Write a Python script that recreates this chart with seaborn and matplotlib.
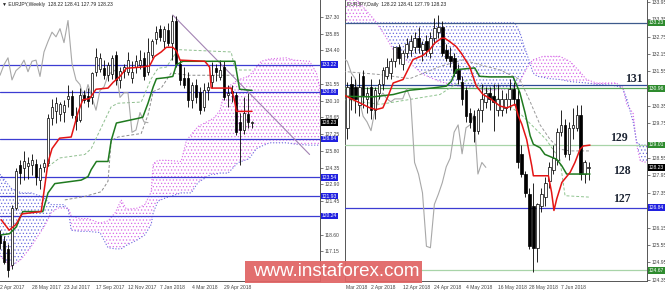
import numpy as np
import pandas as pd
import matplotlib
matplotlib.use("Agg")
import matplotlib.pyplot as plt
import matplotlib.transforms as mtransforms
from matplotlib.patches import Rectangle
import seaborn as sns

sns.set_theme(style="white")
plt.rcParams['font.family'] = ['Liberation Sans', 'DejaVu Sans']
plt.rcParams['hatch.linewidth'] = 0.5

# ---------------- LEFT: EURJPY Weekly ----------------
w_idx = list(range(0, 64))
w_open = [118.6, 118.1, 117.4, 116.0, 120.9, 124.6, 124.3, 124.5, 124.6, 124.7,
          123.3, 124.4, 124.8, 128.6, 129.2, 129.0, 129.15, 130.3, 130.5, 128.8,
          128.5, 130.6, 130.5, 130.4, 132.6, 132.8, 132.9, 132.3, 132.4, 134.0,
          131.9, 132.7, 132.6, 132.1, 133.0, 133.2, 133.8, 132.6, 134.0, 135.4,
          136.3, 135.2, 136.2, 135.1, 137.0, 133.3, 132.1, 132.1, 130.2, 131.5,
          130.9, 129.6, 131.0, 131.7, 132.9, 132.15, 133.0, 130.6, 130.95, 130.6,
          128.3, 127.6, 129.0, 128.22]
w_high = [119.0, 118.5, 117.8, 121.2, 124.3, 125.0, 125.8, 125.3, 125.5, 125.1,
          124.7, 125.1, 129.0, 130.3, 130.4, 130.0, 130.2, 131.5, 131.0, 129.6,
          131.2, 131.0, 131.2, 132.6, 134.6, 134.2, 133.6, 133.4, 134.0, 134.4,
          133.0, 133.3, 134.3, 133.5, 134.0, 134.5, 134.3, 135.5, 135.4, 136.5,
          136.6, 136.5, 136.8, 137.5, 137.4, 133.6, 133.0, 132.6, 131.7, 132.0,
          131.3, 131.6, 131.7, 133.4, 133.3, 133.6, 133.5, 131.5, 131.5, 130.9,
          129.1, 130.4, 130.8, 128.41]
w_low = [117.4, 116.1, 115.0, 115.7, 120.7, 123.0, 123.3, 123.4, 123.7, 122.9,
         122.5, 124.0, 124.5, 128.0, 128.2, 128.4, 128.3, 129.6, 128.6, 127.6,
         128.3, 129.9, 129.6, 129.8, 132.2, 132.6, 132.0, 131.8, 132.0, 131.5,
         131.2, 132.1, 132.3, 131.6, 132.5, 132.8, 131.9, 132.3, 133.8, 135.0,
         135.2, 134.6, 134.8, 133.6, 133.0, 131.5, 131.2, 129.6, 129.5, 129.9,
         129.0, 129.2, 130.2, 131.2, 131.8, 131.9, 130.2, 129.6, 130.0, 127.2,
         124.6, 127.3, 127.8, 127.79]
w_close = [117.9, 116.3, 115.6, 120.9, 124.1, 123.9, 124.9, 124.8, 125.0, 123.6,
           124.3, 124.8, 128.6, 129.6, 129.9, 129.8, 129.75, 130.5, 128.9, 128.4,
           130.6, 130.2, 130.1, 132.5, 133.9, 133.8, 132.3, 133.2, 133.8, 131.9,
           132.7, 133.0, 133.6, 132.6, 133.5, 133.6, 132.2, 134.3, 135.2, 136.0,
           135.6, 136.3, 135.1, 137.0, 133.3, 131.9, 131.5, 130.2, 131.5, 130.4,
           129.3, 131.0, 131.3, 132.3, 132.6, 132.75, 130.4, 130.8, 130.8, 127.4,
           127.6, 129.1, 128.3, 128.23]

w_tenkan_x = [0.3, 2.3, 4.0, 5.5, 10.3, 12.0, 13.0, 14.9, 17.8, 19.5, 20.7, 22.4, 24.0,
              27.0, 28.3, 30.0, 31.6, 35.3, 37.4, 38.6, 40.3, 41.6, 43.2, 44.1, 45.0,
              51.2, 52.4, 52.8, 57.8, 58.6, 59.1, 63.0]
w_tenkan_y = [119.9, 119.0, 119.5, 120.4, 120.6, 124.8, 126.0, 126.9, 127.0, 129.1, 130.2,
              130.3, 131.1, 131.2, 131.7, 132.2, 132.9, 133.0, 133.1, 133.9, 134.3, 134.7,
              134.7, 134.4, 133.6, 133.5, 133.0, 131.2, 131.2, 130.2, 129.2, 129.2]

w_kijun_x = [0.3, 2.4, 4.1, 4.9, 5.7, 10.7, 12.0, 13.7, 20.3, 22.0, 22.8, 24.1, 27.0,
             27.8, 29.1, 34.5, 35.7, 37.0, 38.3, 39.1, 41.6, 43.2, 44.1, 45.7, 58.7,
             59.9, 63.0]
w_kijun_y = [118.6, 118.7, 119.3, 120.0, 120.6, 120.6, 122.2, 123.0, 123.3, 123.6, 124.2,
             124.9, 124.9, 126.7, 128.2, 128.6, 128.7, 129.9, 131.3, 132.0, 132.1, 132.2,
             133.2, 133.5, 133.5, 131.1, 131.0]

w_cloud_x = [0.0, 2.8, 5.3, 7.8, 9.5, 11.2, 12.8, 14.5, 16.0, 17.1, 17.8, 20.0, 22.0, 25.0,
             27.0, 28.8, 30.3, 31.6, 34.5, 36.2, 37.8, 38.3, 39.5, 41.6, 45.3, 46.6, 47.8,
             49.5, 52.8, 53.7, 55.0, 56.2, 57.0, 59.5, 62.0, 62.4, 64.1, 65.3, 67.4, 71.6,
             73.6, 77.4, 79.1, 79.9, 80.5]
w_span_a = [116.8, 115.9, 116.5, 117.6, 118.5, 119.4, 120.5, 120.9, 120.9, 120.9, 120.2,
            120.0, 120.0, 119.6, 119.8, 120.5, 121.6, 120.8, 120.9, 121.2, 122.3, 124.7,
            125.0, 125.0, 124.9, 126.7, 127.2, 127.9, 128.5, 128.7, 129.3, 131.0, 131.3,
            131.9, 132.2, 132.3, 133.0, 133.5, 133.7, 133.8, 133.6, 133.5, 132.5, 131.3,
            127.5]
w_span_b = [123.8, 122.6, 122.2, 122.2, 122.0, 121.7, 121.2, 121.2, 121.2, 120.7, 119.0,
            118.9, 118.9, 118.8, 117.5, 117.4, 117.4, 117.7, 118.2, 118.6, 119.5, 120.5,
            121.5, 121.8, 122.2, 122.2, 122.2, 123.1, 123.8, 123.8, 123.9, 123.9, 123.9,
            124.8, 125.1, 125.2, 126.0, 126.2, 126.5, 126.5, 126.4, 126.3, 126.3, 126.3,
            126.3]

w_dash_a_x = [12.0, 14.9, 21.2, 22.8, 27.8, 29.5, 35.3, 37.8, 39.5, 41.6, 44.5, 57.8, 58.6, 59.9, 62.8]
w_dash_a_y = [124.45, 125.2, 125.5, 126.0, 129.6, 129.9, 130.0, 132.0, 132.9, 133.0, 134.5,
              134.3, 133.0, 132.75, 132.75]
w_dash_b_x = [16.2, 21.2, 25.3, 27.0, 27.8, 29.5, 35.3, 37.0, 38.3, 40.3, 42.8, 47.0, 58.6]
w_dash_b_y = [121.6, 121.9, 122.3, 123.2, 126.7, 127.0, 127.3, 128.9, 130.9, 131.2, 132.5,
              132.3, 132.3]

w_trend_x = [43.2, 77.4]
w_trend_y = [137.47, 125.5]

w_levels = [133.22, 130.88, 126.84, 123.54, 121.93, 120.24]
w_last = 128.23
w_ytick_vals = [137.30, 135.86, 134.43, 131.55, 130.11, 128.68, 127.24, 125.80, 124.36,
                122.93, 121.49, 118.61, 117.18, 115.74]
w_ytick_labels = ["137.30", "135.85", "134.40", "131.55", "130.10", "128.65", "127.25",
                  "125.80", "124.35", "122.90", "121.45", "118.60", "117.15", "115.75"]
w_xtick_pos = [0, 8, 16, 24, 32, 40, 48, 56]
w_xtick_labels = ["2 Apr 2017", "28 May 2017", "23 Jul 2017", "17 Sep 2017",
                  "12 Nov 2017", "7 Jan 2018", "4 Mar 2018", "29 Apr 2018"]

# ---------------- RIGHT: EURJPY Daily ----------------
d_idx = list(range(-6, 56))
d_open = [129.6, 131.1, 131.0, 130.4, 131.4, 130.6, 131.0, 130.2, 130.8, 131.1, 131.4,
          131.5, 131.9, 132.4, 131.8, 132.2, 132.3, 132.4, 132.7, 132.3, 132.6, 132.2,
          132.7, 132.9, 133.1, 132.3, 132.1, 132.0, 131.6, 131.2, 130.9, 130.1, 130.0,
          129.5, 130.2, 130.5, 130.8, 130.7, 130.2, 130.2, 130.3, 130.6, 130.95, 130.6,
          128.7, 128.0, 127.3, 126.9, 125.45, 126.9, 127.2, 127.75, 128.15, 128.5, 129.45,
          129.7, 128.7, 129.6, 129.6, 130.05, 128.0, 128.22]
d_high = [131.2, 131.4, 131.3, 131.5, 131.6, 131.0, 131.3, 131.0, 131.3, 131.7, 132.0,
          132.0, 132.4, 132.5, 132.3, 132.7, 132.8, 132.9, 133.1, 132.6, 132.8, 132.9,
          133.4, 133.5, 133.3, 132.5, 132.4, 132.2, 131.8, 131.4, 131.0, 130.3, 130.2,
          130.3, 131.1, 131.0, 131.0, 131.1, 131.1, 130.9, 130.8, 131.3, 131.2, 130.9,
          129.0, 128.1, 127.5, 127.7, 127.0, 127.5, 127.9, 128.4, 129.0, 129.6, 130.2,
          129.9, 129.8, 130.3, 130.4, 130.4, 128.5, 128.41]
d_low = [129.2, 130.2, 130.1, 130.0, 130.3, 130.1, 129.9, 129.9, 130.6, 130.9, 131.3,
         131.3, 131.7, 131.8, 131.6, 132.0, 132.1, 132.2, 132.2, 131.9, 132.1, 132.0,
         132.5, 132.7, 132.1, 131.9, 131.7, 131.4, 131.1, 130.4, 129.8, 129.6, 129.1,
         129.4, 129.8, 130.3, 130.2, 129.5, 130.0, 130.0, 130.1, 130.2, 130.4, 128.2,
         127.9, 127.2, 125.4, 124.6, 124.95, 126.7, 126.9, 127.5, 128.0, 128.3, 129.3,
         128.6, 128.5, 129.2, 129.5, 127.8, 127.7, 127.79]
d_close = [131.0, 130.6, 130.6, 131.0, 130.7, 130.8, 130.2, 130.9, 131.1, 131.6, 131.7,
           131.9, 132.4, 132.0, 132.2, 132.5, 132.6, 132.7, 132.4, 132.5, 132.3, 132.7,
           133.05, 133.1, 132.2, 132.0, 131.9, 131.5, 131.3, 130.6, 130.0, 129.8, 129.5,
           130.2, 130.6, 130.8, 130.6, 130.5, 130.6, 130.6, 130.6, 130.95, 130.6, 128.4,
           128.0, 127.35, 125.5, 125.45, 126.95, 127.3, 127.7, 128.25, 128.55, 129.45,
           129.7, 128.7, 129.6, 129.7, 130.05, 128.0, 128.4, 128.23]

d_tenkan_x = [-7.1, -0.3, 1.3, 3.0, 4.3, 5.6, 8.1, 10.6, 13.1, 14.8, 16.1, 17.8, 18.6,
              19.9, 21.5, 22.8, 24.9, 26.6, 28.3, 30.0, 32.6, 34.3, 36.4, 37.2, 38.1,
              39.3, 40.6, 41.0, 44.8, 45.6, 46.2, 46.9, 48.2, 50.3, 51.5, 52.8, 53.6, 55.3]
d_tenkan_y = [130.75, 130.29, 130.23, 130.29, 130.69, 131.15, 131.27, 131.96, 132.1, 132.3,
              132.53, 132.7, 132.7, 132.58, 132.41, 132.18, 131.72, 131.04, 130.75, 130.62,
              130.35, 130.29, 130.41, 130.01, 129.72, 129.2, 128.28, 127.94, 127.94, 127.37,
              126.74, 127.14, 127.71, 128.06, 128.4, 128.86, 128.97, 129.0]
d_kijun_x = [-7.1, 0.5, 5.6, 9.8, 15.7, 19.0, 20.3, 21.5, 26.2, 27.4, 30.0, 35.9, 37.6,
             38.9, 40.2, 41.0, 42.7, 43.9, 46.9, 48.2, 49.4, 55.3]
d_kijun_y = [130.69, 130.67, 130.75, 130.9, 130.98, 131.04, 131.21, 131.61, 131.67, 131.38,
             131.36, 131.36, 130.81, 130.12, 129.32, 129.03, 128.91, 128.68, 128.51, 128.28,
             128.0, 128.0]

d_cloud_x = [-6.6, -3.8, -1.5, 0.9, 3.5, 5.6, 9.8, 13.1, 17.3, 23.2, 30.0, 35.1, 36.3,
             37.6, 38.7, 40.0, 40.9, 42.0, 43.4, 45.0, 47.7, 50.2, 52.7, 54.4, 56.9, 60.0,
             61.9, 63.0, 63.6, 64.6, 66.2, 67.1, 68.0, 69.7]
d_span_a = [134.3, 134.05, 133.7, 133.33, 132.8, 132.3, 131.84, 131.45, 131.2, 131.0,
            130.9, 130.95, 131.0, 131.2, 131.5, 131.8, 131.95, 132.0, 132.07, 132.07,
            132.07, 131.9, 131.55, 131.27, 131.15, 131.15, 131.15, 131.05, 131.0, 130.4,
            130.1, 129.0, 128.45, 128.4]
d_span_b = [133.23, 133.23, 133.23, 133.23, 133.23, 133.23, 133.23, 133.23, 133.23, 133.23,
            133.23, 133.23, 133.23, 132.9, 132.4, 131.9, 131.5, 131.38, 131.35, 131.3,
            131.27, 131.2, 131.17, 131.15, 131.1, 131.08, 131.05, 131.0, 130.95, 130.6,
            129.8, 129.1, 129.0, 129.0]

d_dash_g_x = [-7.1, 2.3, 9.8, 17.4, 23.2, 27.5, 32.6, 37.6, 40.2, 42.7, 45.2, 47.7, 50.3, 55.3]
d_dash_g_y = [131.55, 131.44, 131.3, 131.72, 131.95, 131.78, 131.6, 131.27, 130.5, 129.7,
              129.2, 128.86, 128.8, 128.8]
d_dash_l_x = [-7.1, 2.3, 9.8, 17.4, 21.2, 25.0, 37.6, 40.9, 44.2, 47.7, 49.0, 55.3]
d_dash_l_y = [130.58, 130.41, 130.58, 130.75, 131.09, 131.27, 130.1, 129.65, 129.2, 128.5,
              127.25, 127.2]

d_levels = [133.23, 131.07, 130.96, 129.01, 126.84, 124.67]
d_level_colors = ['#3d5a8c', '#2d4a96', '#5aa85a', '#a8d4a8', '#3c3cd2', '#a8d4a8']
d_label_vals = [133.23, 130.96, 129.01, 126.84, 124.67]
d_label_colors = ['#2e8b2e', '#2e8b2e', '#2e8b2e', '#2020e0', '#2e8b2e']
d_last = 128.23
d_ytick_vals = [133.95, 133.35, 132.75, 132.15, 131.55, 130.35, 129.75, 128.55, 127.95,
                127.35, 126.15, 125.55, 124.95, 124.35]
d_ytick_labels = ["133.95", "133.35", "132.75", "132.15", "131.55", "130.35", "129.75",
                  "128.55", "127.95", "127.35", "126.15", "125.55", "124.95", "124.35"]
d_xtick_pos = [-6.4, 0, 8, 16, 24, 32, 40, 48]
d_xtick_labels = ["Mar 2018", "2 Apr 2018", "12 Apr 2018", "24 Apr 2018", "4 May 2018",
                  "16 May 2018", "28 May 2018", "7 Jun 2018"]

ann_text = ["131", "129", "128", "127"]
ann_x = [66.3, 62.5, 63.3, 63.3]
ann_y = [131.3, 129.24, 128.1, 127.14]

# ---------------- styling constants ----------------
PINK = '#d86ae8'
BLUE = '#6a6ade'
RED = '#e41414'
GREEN = '#1f7a1f'
GRAY = '#a8a8a8'
LVL_BLUE = '#3c3cd2'
SMALL = 3.6

fig = plt.figure(figsize=(6.65, 2.92), dpi=100)
fig.patch.set_facecolor('white')
axL = fig.add_axes([0.0, 11 / 292, 320 / 665, 281 / 292])
axR = fig.add_axes([345 / 665, 11 / 292, 302 / 665, 281 / 292])


def draw_candles(ax, x, o, h, l, c, width=0.7):
    x = np.asarray(x, float)
    o = np.asarray(o, float); h = np.asarray(h, float)
    l = np.asarray(l, float); c = np.asarray(c, float)
    ax.vlines(x, l, h, color='black', lw=0.6, zorder=6)
    up = c >= o
    body = np.maximum(np.abs(c - o), 0.03)
    ax.bar(x[up], body[up], bottom=o[up], width=width, color='white',
           edgecolor='black', linewidth=0.5, zorder=7)
    ax.bar(x[~up], body[~up], bottom=c[~up], width=width, color='black',
           edgecolor='black', linewidth=0.5, zorder=7)


def draw_cloud(ax, x, a, b):
    x = np.asarray(x); a = np.asarray(a); b = np.asarray(b)
    ax.fill_between(x, a, b, where=a >= b, interpolate=True, facecolor='none',
                    edgecolor=PINK, hatch='.....', linewidth=0, zorder=1)
    ax.fill_between(x, a, b, where=a < b, interpolate=True, facecolor='none',
                    edgecolor=BLUE, hatch='.....', linewidth=0, zorder=1)
    ax.plot(x, a, color=PINK, lw=0.8, ls=':', zorder=2)
    ax.plot(x, b, color=BLUE, lw=0.8, ls=':', zorder=2)


def value_box(ax, v, color, txtcolor='white'):
    tr = mtransforms.blended_transform_factory(ax.transAxes, ax.transData)
    ax.text(1.006, v, f"{v:.2f}", transform=tr, fontsize=SMALL, color=txtcolor,
            va='center', ha='left', clip_on=False, zorder=12,
            bbox=dict(boxstyle='square,pad=0.15', fc=color, ec='none'))


# ---- left panel ----
draw_cloud(axL, w_cloud_x, w_span_a, w_span_b)
for v in w_levels:
    axL.axhline(v, color=LVL_BLUE, lw=0.9, zorder=3)
sns.lineplot(x=w_dash_a_x, y=w_dash_a_y, ax=axL, color='#8fbf8f', lw=0.7,
             linestyle=(0, (3, 2)), estimator=None, sort=False, zorder=4)
sns.lineplot(x=w_dash_b_x, y=w_dash_b_y, ax=axL, color='#8c8c8c', lw=0.7,
             linestyle=(0, (3, 2)), estimator=None, sort=False, zorder=4)
chik_w = pd.DataFrame({'x': np.array(w_idx[26:]) - 26, 'y': w_close[26:]})
sns.lineplot(data=chik_w, x='x', y='y', ax=axL, color=GRAY, lw=0.8,
             estimator=None, sort=False, zorder=4)
sns.lineplot(x=w_trend_x, y=w_trend_y, ax=axL, color='#a383b3', lw=0.8,
             estimator=None, sort=False, zorder=5)
draw_candles(axL, w_idx, w_open, w_high, w_low, w_close, width=0.7)
sns.lineplot(x=w_kijun_x, y=w_kijun_y, ax=axL, color=GREEN, lw=1.1,
             estimator=None, sort=False, zorder=8)
sns.lineplot(x=w_tenkan_x, y=w_tenkan_y, ax=axL, color=RED, lw=1.1,
             estimator=None, sort=False, zorder=9)

axL.set_xlim(0, 80)
axL.set_ylim(114.64, 138.76)
axL.yaxis.tick_right()
axL.set_yticks(w_ytick_vals)
axL.set_yticklabels(w_ytick_labels)
axL.set_xticks(w_xtick_pos)
axL.set_xticklabels(w_xtick_labels, ha='left')
for v in w_levels:
    value_box(axL, v, '#2020e0')
value_box(axL, w_last, 'black')
axL.text(0.006, 0.992, "\u25BC EURJPY,Weekly  128.22 128.41 127.79 128.23",
         transform=axL.transAxes, fontsize=SMALL, va='top', ha='left', color='#222')

# ---- right panel ----
draw_cloud(axR, d_cloud_x, d_span_a, d_span_b)
for v, col in zip(d_levels, d_level_colors):
    axR.axhline(v, color=col, lw=0.9, zorder=3)
sns.lineplot(x=d_dash_g_x, y=d_dash_g_y, ax=axR, color='#9a9a9a', lw=0.7,
             linestyle=(0, (3, 2)), estimator=None, sort=False, zorder=4)
sns.lineplot(x=d_dash_l_x, y=d_dash_l_y, ax=axR, color='#8fc48f', lw=0.7,
             linestyle=(0, (3, 2)), estimator=None, sort=False, zorder=4)
chik_d = pd.DataFrame({'x': np.array(d_idx) - 26, 'y': d_close})
sns.lineplot(data=chik_d, x='x', y='y', ax=axR, color=GRAY, lw=0.8,
             estimator=None, sort=False, zorder=4)
draw_candles(axR, d_idx, d_open, d_high, d_low, d_close, width=0.7)
sns.lineplot(x=d_kijun_x, y=d_kijun_y, ax=axR, color=GREEN, lw=1.1,
             estimator=None, sort=False, zorder=8)
sns.lineplot(x=d_tenkan_x, y=d_tenkan_y, ax=axR, color=RED, lw=1.1,
             estimator=None, sort=False, zorder=9)
for t, x, y in zip(ann_text, ann_x, ann_y):
    axR.text(x, y, t, fontsize=8.5, fontweight='bold', family='Liberation Serif',
             color='#1c2433', ha='center', va='center', zorder=11)

axR.set_xlim(-6.57, 69.7)
axR.set_ylim(124.30, 134.02)
axR.yaxis.tick_right()
axR.set_yticks(d_ytick_vals)
axR.set_yticklabels(d_ytick_labels)
axR.set_xticks(d_xtick_pos)
axR.set_xticklabels(d_xtick_labels, ha='left')
for v, col in zip(d_label_vals, d_label_colors):
    value_box(axR, v, col)
value_box(axR, d_last, 'black')
axR.text(0.008, 0.992, "EURJPY,Daily  128.22 128.41 127.79 128.23",
         transform=axR.transAxes, fontsize=SMALL, va='top', ha='left', color='#222')

for ax in (axL, axR):
    ax.set_xlabel('')
    ax.set_ylabel('')
    ax.tick_params(axis='both', labelsize=SMALL, length=2, width=0.5, pad=1,
                   colors='#444')
    ax.set_facecolor('white')
    for s in ax.spines.values():
        s.set_color('#555555')
        s.set_linewidth(0.7)
    ax.spines['top'].set_visible(False)
axL.spines['left'].set_visible(False)

# watermark
fig.patches.append(Rectangle((245 / 665, 9 / 292), 177 / 665, 22 / 292,
                             transform=fig.transFigure, facecolor='#e06464',
                             alpha=0.93, edgecolor='none', zorder=20))
fig.text(336 / 665, 20 / 292, "www.instaforex.com", family='Liberation Sans',
         fontsize=13.5, color='white', ha='center', va='center', zorder=21)

fig.savefig("out.png", dpi=100)
